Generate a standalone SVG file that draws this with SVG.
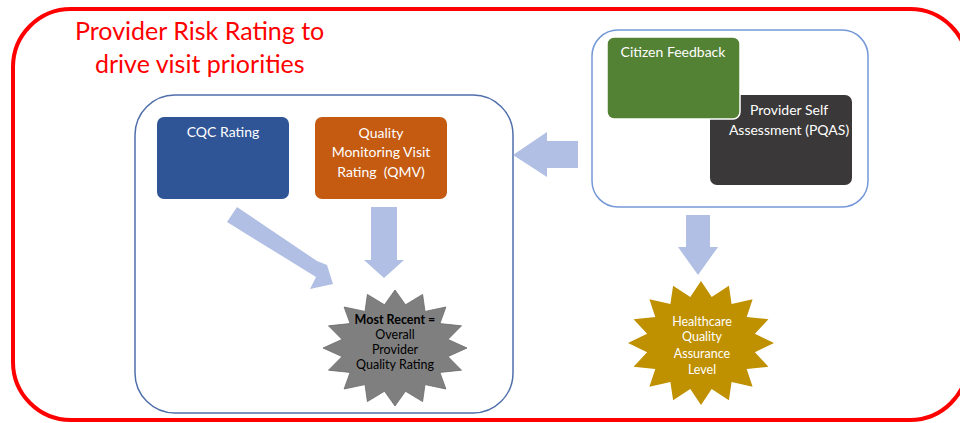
<svg xmlns="http://www.w3.org/2000/svg" width="960" height="423" viewBox="0 0 960 423">
<style>
text{font-family:Lato,"Open Sans","Liberation Sans",sans-serif;}
.lbl{font-size:14px;fill:#ffffff;text-anchor:middle;}
.star{font-size:12.5px;text-anchor:middle;}
.arrow{fill:#b0bfe3;}
</style>
<rect width="960" height="423" fill="#ffffff"/>
<g id="frame">
<rect x="13" y="9" width="955" height="411" rx="58" fill="none" stroke="#ff0000" stroke-width="4"/>
<text x="75" y="40" font-size="25" fill="#ff0000">Provider Risk Rating to</text>
<text x="95" y="73" font-size="25" fill="#ff0000">drive visit priorities</text>
</g>
<g id="rating-group">
<rect x="135" y="95" width="378" height="318" rx="40" fill="none" stroke="#4f6faa" stroke-width="1.5"/>
</g>
<g id="feedback-group">
<rect x="592" y="30" width="276" height="177" rx="26" fill="none" stroke="#7598d8" stroke-width="1.5"/>
</g>
<g id="cqc">
<rect x="157" y="117" width="132" height="82" rx="7" fill="#2f5597"/>
<text class="lbl" x="223" y="137">CQC Rating</text>
</g>
<g id="qmv">
<rect x="315" y="117" width="132" height="82" rx="7" fill="#c55a11"/>
<text class="lbl" x="381" y="138">Quality</text>
<text class="lbl" x="381" y="157">Monitoring Visit</text>
<text class="lbl" x="381" y="177" xml:space="preserve">Rating  (QMV)</text>
</g>
<g id="pqas">
<rect x="710" y="95" width="142" height="90" rx="7" fill="#3a3838"/>
<text class="lbl" x="789" y="115">Provider Self</text>
<text class="lbl" x="789" y="135">Assessment (PQAS)</text>
</g>
<g id="citizen">
<rect x="607" y="37" width="133" height="82" rx="7" fill="#548235" stroke="#ffffff" stroke-width="1.5"/>
<text class="lbl" x="673" y="57">Citizen Feedback</text>
</g>
<g id="connectors">
<polygon class="arrow" points="578,141 547,141 547,132 513,155 547,177 547,168 578,168"/>
<polygon class="arrow" points="371,207 397,207 397,260 404,260 384,278 364,260 371,260"/>
<polygon class="arrow" points="686,215 710,215 710,247 718,247 698,275 678,247 686,247"/>
<polygon class="arrow" points="227,222 237,207 317,261 327,265 333,284 310,289 316,277"/>
</g>
<g id="overall-rating">
<polygon fill="#7f7f7f" stroke="#6a6a6a" stroke-width="0.8" points="467,348 448,356.6 461.5,370.2 439.9,372.4 445.9,389 425,384.6 422.6,401.6 405.5,391.2 395,406 384.5,391.2 367.4,401.6 365,384.6 344.1,389 350.1,372.4 328.5,370.2 342,356.6 323,348 342,339.4 328.5,325.8 350.1,323.6 344.1,307 365,311.4 367.4,294.4 384.5,304.8 395,290 405.5,304.8 422.6,294.4 425,311.4 445.9,307 439.9,323.6 461.5,325.8 448,339.4"/>
<text class="star" x="395" y="324" font-weight="bold" fill="#000000">Most Recent =</text>
<text class="star" x="395" y="339" fill="#000000">Overall</text>
<text class="star" x="395" y="354" fill="#000000">Provider</text>
<text class="star" x="395" y="369" fill="#000000">Quality Rating</text>
</g>
<g id="hqa-level">
<polygon fill="#bf9000" points="774,343 754.9,352.2 768.4,366.7 746.7,369.1 752.6,386.8 731.6,382.1 728.9,400.3 711.7,389.1 701,405 690.3,389.1 673.1,400.3 670.4,382.1 649.4,386.8 655.3,369.1 633.6,366.7 647.1,352.2 628,343 647.1,333.8 633.6,319.3 655.3,316.9 649.4,299.2 670.4,303.9 673.1,285.7 690.3,296.9 701,281 711.7,296.9 728.9,285.7 731.6,303.9 752.6,299.2 746.7,316.9 768.4,319.3 754.9,333.8"/>
<text class="star" x="702" y="326" fill="#ffffff">Healthcare</text>
<text class="star" x="702" y="341" fill="#ffffff">Quality</text>
<text class="star" x="702" y="358" fill="#ffffff">Assurance</text>
<text class="star" x="702" y="374" fill="#ffffff">Level</text>
</g>
</svg>
